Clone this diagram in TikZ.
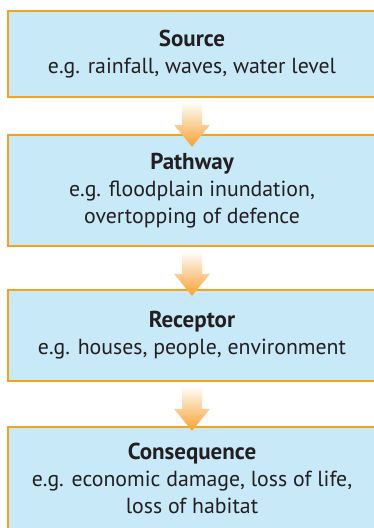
\documentclass[tikz,border=0pt]{standalone}
\usepackage{fontspec}
\setmainfont{PT Sans}
\usetikzlibrary{calc}
\definecolor{boxfill}{HTML}{C8E9F8}
\definecolor{boxline}{HTML}{F7A21B}
\definecolor{txt}{HTML}{231F20}
\definecolor{arrmid}{HTML}{FCC470}
\definecolor{arrbot}{HTML}{F7A030}
\newcommand{\stagetitle}[1]{{\fontsize{23}{27}\selectfont\bfseries #1}}
\tikzset{
  stagebox/.style={draw=boxline, line width=1.6pt, fill=boxfill, minimum width=368pt,
    align=center, text=txt, inner sep=0pt, font=\fontsize{21.8}{27}\selectfont},
  flowarrow/.style={top color=white, middle color=arrmid, bottom color=arrbot, draw=none},
}
\begin{document}
\begin{tikzpicture}[x=1pt,y=1pt]
\clip (0,0) rectangle (374,-528);
\fill[white] (0,0) rectangle (374,-528);
\node[stagebox, minimum height=86pt] (b1) at (192,-54) {\stagetitle{Source}\\e.g. rainfall, waves, water level};
\node[stagebox, minimum height=111pt] (b2) at (192,-190.5) {\stagetitle{Pathway}\\e.g. floodplain inundation,\\overtopping of defence};
\node[stagebox, minimum height=91pt] (b3) at (192,-335.5) {\stagetitle{Receptor}\\e.g. houses, people, environment};
\node[stagebox, minimum height=103pt] (b4) at (192,-478.5) {\stagetitle{Consequence}\\e.g. economic damage, loss of life,\\loss of habitat};
\foreach \a/\b in {b1/b2, b2/b3, b3/b4}{
  \path[flowarrow]
    ($(\a.south)+(-10,-4)$) -- ($(\a.south)+(10,-4)$) -- ($(\a.south)+(10,-27)$)
    -- ($(\a.south)+(18,-27)$) -- ($(\a.south)+(0,-49)$) -- ($(\a.south)+(-18,-27)$)
    -- ($(\a.south)+(-10,-27)$) -- cycle;
}
\end{tikzpicture}
\end{document}
